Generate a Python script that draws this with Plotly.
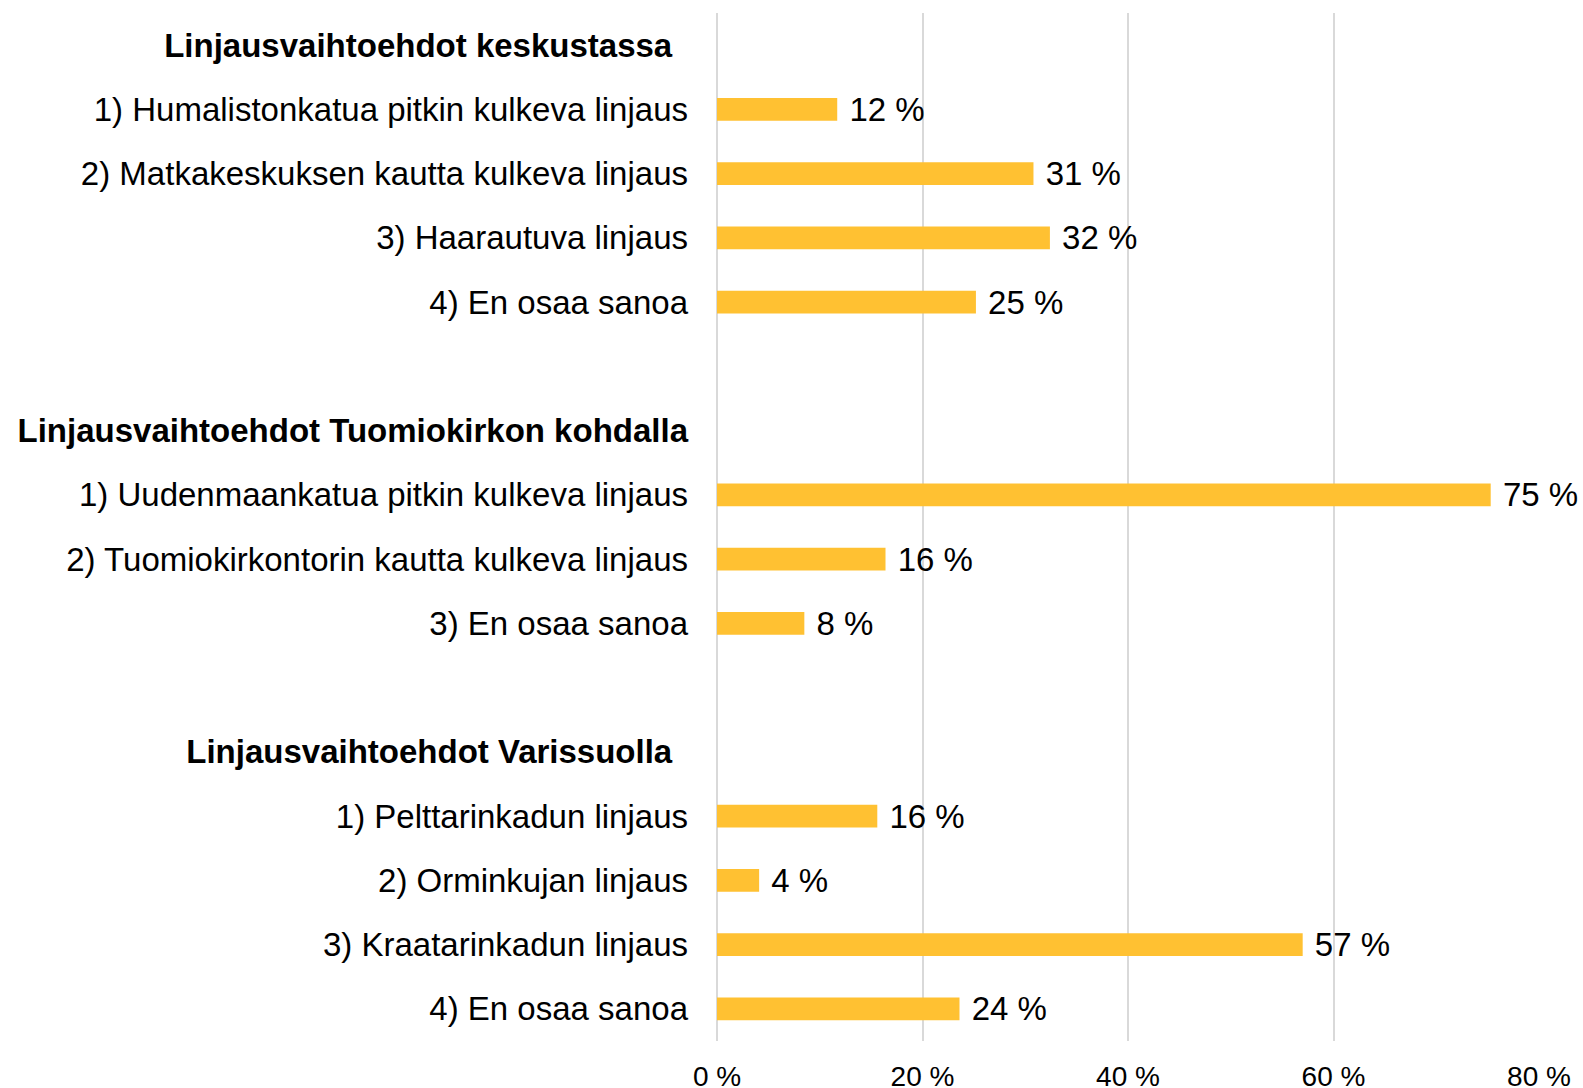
import plotly.graph_objects as go

categories = [
    "<b>Linjausvaihtoehdot keskustassa</b>\u00a0\u2009",
    "1) Humalistonkatua pitkin kulkeva linjaus",
    "2) Matkakeskuksen kautta kulkeva linjaus",
    "3) Haarautuva linjaus",
    "4) En osaa sanoa",
    "\u00a0",
    "<b>Linjausvaihtoehdot Tuomiokirkon kohdalla</b>",
    "1) Uudenmaankatua pitkin kulkeva linjaus",
    "2) Tuomiokirkontorin kautta kulkeva linjaus",
    "3) En osaa sanoa",
    "\u00a0\u00a0",
    "<b>Linjausvaihtoehdot Varissuolla</b>\u00a0\u2009",
    "1) Pelttarinkadun linjaus",
    "2) Orminkujan linjaus",
    "3) Kraatarinkadun linjaus",
    "4)\u00a0En osaa sanoa",
]
values = [None, 11.7, 30.8, 32.4, 25.2, None, None, 75.3, 16.4, 8.5, None, None, 15.6, 4.1, 57.0, 23.6]
labels = ["", "12 %", "31 %", "32 %", "25 %", "", "", "75 %", "16 %", "8 %", "", "", "16 %", "4 %", "57 %", "24 %"]
x_ticks = [0, 20, 40, 60, 80]
x_ticklabels = ["0 %", "20 %", "40 %", "60 %", "80 %"]

FONT = "Liberation Sans, Arial, sans-serif"

fig = go.Figure(go.Bar(
    y=categories, x=values, orientation="h",
    marker=dict(color="#FFC132", line=dict(width=0)),
    text=["\u00a0" + t if t else "" for t in labels],
    textposition="outside", cliponaxis=False, constraintext="none",
    textfont=dict(size=33, color="#000000", family=FONT),
    width=0.355,
))

fig.update_layout(
    width=1583, height=1088,
    margin=dict(l=717, r=44, t=13, b=47, autoexpand=False),
    paper_bgcolor="white", plot_bgcolor="white",
    showlegend=False,
    font=dict(family=FONT, color="#000000"),
    xaxis=dict(range=[0, 80], tickvals=x_ticks, ticktext=x_ticklabels,
               showgrid=True, gridcolor="#D9D9D9", gridwidth=1.5,
               zeroline=True, zerolinecolor="#D9D9D9", zerolinewidth=1.5,
               showline=False, ticks="", ticklabelstandoff=16, automargin=False,
               tickfont=dict(size=28, family=FONT)),
    yaxis=dict(autorange="reversed", categoryorder="array", categoryarray=categories,
               showgrid=False, showline=False, ticks="", ticklabelstandoff=28,
               automargin=False,
               tickfont=dict(size=33, family=FONT)),
)

fig.write_html("out.html")
